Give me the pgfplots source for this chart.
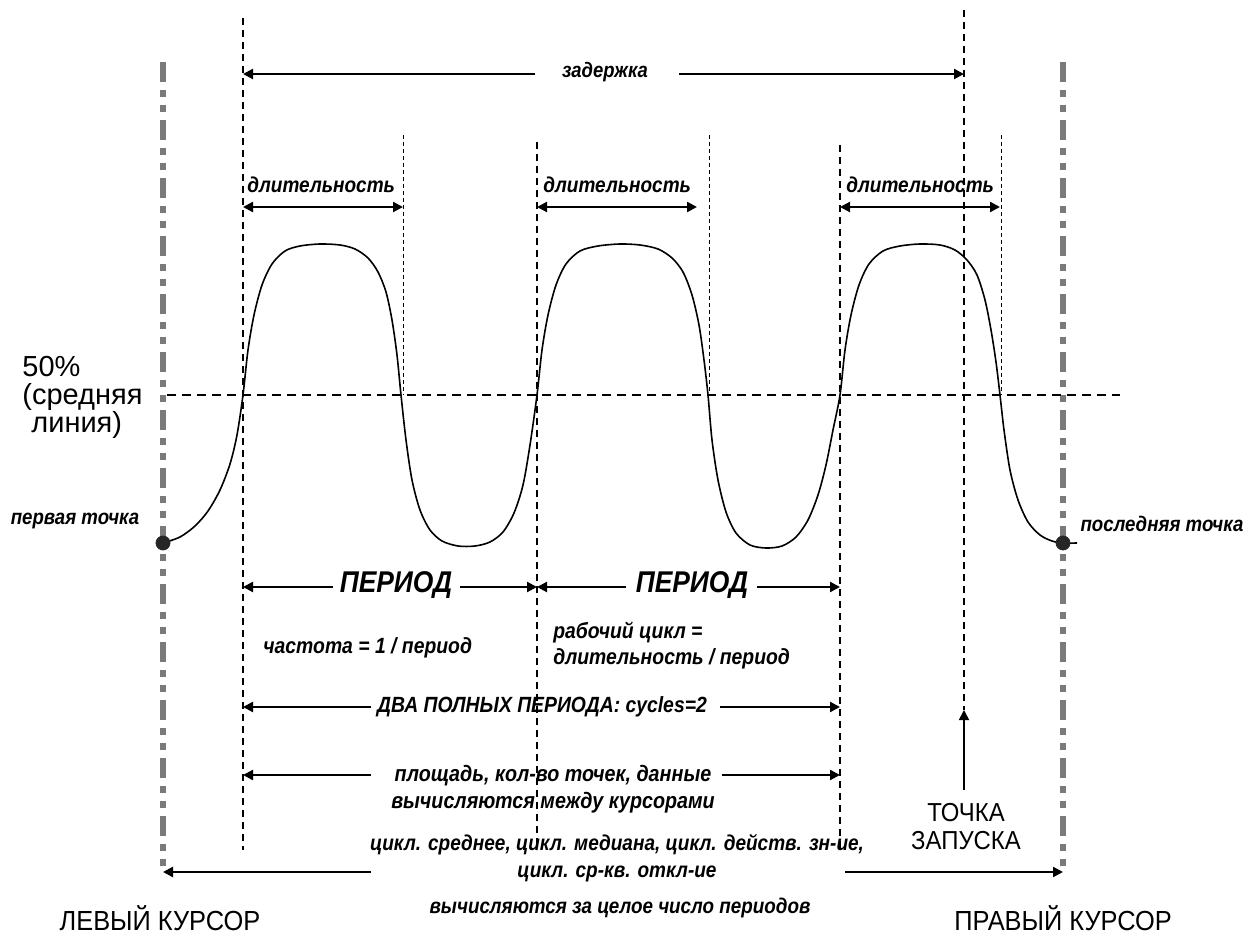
\documentclass[border=0pt]{standalone}
\usepackage{fontspec}
\setmainfont{Liberation Sans}[FakeStretch=0.92]
\newfontfamily\bifont{Liberation Sans}[FakeStretch=0.88]
\newfontfamily\plainfont{Liberation Sans}
\usepackage{pgfplots}
\pgfplotsset{compat=1.18}
\usetikzlibrary{arrows.meta}
\newcommand{\BI}{\bifont\bfseries\itshape}
\tikzset{
  arr/.style={line width=1.1pt,-{Triangle[length=5pt,width=5pt]}},
  darr/.style={line width=1.1pt,{Triangle[length=5pt,width=5pt]}-{Triangle[length=5pt,width=5pt]}},
  vdash/.style={line width=0.9pt,dash pattern=on 3.5pt off 2.5pt},
  vdot/.style={line width=0.5pt,dash pattern=on 2pt off 1.5pt},
  cursor/.style={line width=3pt,black!52,dash pattern=on 10pt off 4pt on 3.5pt off 4pt on 3.5pt off 4pt},
}
\begin{document}
\begin{tikzpicture}
\begin{axis}[
  scale only axis, width=627pt, height=470.5pt,
  xmin=0, xmax=1254, ymin=0, ymax=941, y dir=reverse,
  hide axis, clip=false,
]
% cursors
\draw[cursor] (axis cs:163,62) -- (axis cs:163,870);
\draw[cursor] (axis cs:1063,62) -- (axis cs:1063,870);
% dashed verticals
\draw[vdash] (axis cs:243,18) -- (axis cs:243,850);
\draw[vdash] (axis cs:537,142) -- (axis cs:537,850);
\draw[vdash] (axis cs:840,145) -- (axis cs:840,850);
\draw[vdash] (axis cs:964,10) -- (axis cs:964,710);
\draw[vdot] (axis cs:403,135) -- (axis cs:403,395);
\draw[vdot] (axis cs:709,135) -- (axis cs:709,395);
\draw[vdot] (axis cs:1001,135) -- (axis cs:1001,395);
% midline
\draw[line width=0.8pt,dash pattern=on 4.5pt off 3pt] (axis cs:167,395) -- (axis cs:1120,395);
% waveform
\addplot[black, line width=0.8pt, smooth] coordinates {
(163,543) (180,537) (195,526) (208,511) (220,490) (230,464) (237,435) (243,395)
(248,350) (254,315) (262,285) (272,264) (285,251) (300,246) (320,244) (340,245) (355,249) (368,258) (378,272) (386,292) (392,320) (397,355) (401,395)
(406,440) (412,480) (420,510) (430,530) (442,541) (458,546) (475,546) (490,542) (503,532) (514,513) (523,485) (530,445) (537,395)
(542,350) (548,315) (556,285) (566,264) (580,251) (598,246) (620,244) (640,245) (658,249) (672,258) (683,272) (692,295) (699,325) (704,360) (708,395)
(712,440) (718,480) (726,512) (736,533) (750,545) (766,548) (782,546) (796,537) (808,520) (818,495) (826,465) (833,430) (840,395)
(845,350) (851,315) (859,285) (869,264) (883,251) (900,246) (920,244) (940,245) (955,250) (967,260) (977,275) (985,300) (991,330) (996,362) (1000,395)
(1004,430) (1010,470) (1018,500) (1028,522) (1040,535) (1052,541) (1063,543) (1077,543)
};
\addplot[only marks, mark=*, mark size=3.5pt, black!85] coordinates {(163,543) (1063,543)};
% arrows
\draw[arr] (axis cs:535,74) -- (axis cs:243,74);
\draw[arr] (axis cs:679,74) -- (axis cs:964,74);
\node[font=\BI\fontsize{10.5pt}{12pt}\selectfont] at (axis cs:605,72) {задержка};
\draw[darr] (axis cs:243,207) -- (axis cs:403,207);
\draw[darr] (axis cs:537,207) -- (axis cs:697,207);
\draw[darr] (axis cs:840,207) -- (axis cs:1000,207);
\node[anchor=base west,inner sep=0pt,font=\BI\fontsize{10.8pt}{12pt}\selectfont] at (axis cs:247,193) {длительность};
\node[anchor=base west,inner sep=0pt,font=\BI\fontsize{10.8pt}{12pt}\selectfont] at (axis cs:543,193) {длительность};
\node[anchor=base west,inner sep=0pt,font=\BI\fontsize{10.8pt}{12pt}\selectfont] at (axis cs:846,193) {длительность};
% period
\draw[arr] (axis cs:333,587) -- (axis cs:243,587);
\draw[arr] (axis cs:460,587) -- (axis cs:537,587);
\draw[arr] (axis cs:626,587) -- (axis cs:537,587);
\draw[arr] (axis cs:757,587) -- (axis cs:840,587);
\node[font=\BI\fontsize{15pt}{17pt}\selectfont] at (axis cs:396,585) {ПЕРИОД};
\node[font=\BI\fontsize{15pt}{17pt}\selectfont] at (axis cs:692,585) {ПЕРИОД};
% formulas
\node[anchor=west,inner sep=0pt,font=\BI\fontsize{11pt}{13pt}\selectfont] at (axis cs:263,648) {частота = 1 / период};
\node[anchor=west,inner sep=0pt,align=left,font=\BI\fontsize{11pt}{13pt}\selectfont] at (axis cs:553,646) {рабочий цикл =\\длительность / период};
% two periods
\draw[arr] (axis cs:371,707) -- (axis cs:243,707);
\draw[arr] (axis cs:720,707) -- (axis cs:840,707);
\node[font=\BI\fontsize{11pt}{13pt}\selectfont] at (axis cs:542,707) {ДВА ПОЛНЫХ ПЕРИОДА: cycles=2};
\draw[arr] (axis cs:371,775) -- (axis cs:243,775);
\draw[arr] (axis cs:722,775) -- (axis cs:840,775);
\node[align=center,font=\BI\fontsize{11.2pt}{13.5pt}\selectfont] at (axis cs:553,789) {площадь, кол-во точек, данные\\вычисляются между курсорами};
% cycle stats
\draw[arr] (axis cs:371,872) -- (axis cs:163,872);
\draw[arr] (axis cs:845,872) -- (axis cs:1063,872);
\node[align=center,font=\BI\fontsize{10.8pt}{13.5pt}\selectfont] at (axis cs:617,858) {цикл. среднее, цикл. медиана, цикл. действ. зн-ие,\\цикл. ср-кв. откл-ие};
\node[font=\BI\fontsize{10.7pt}{13pt}\selectfont] at (axis cs:620,908) {вычисляются за целое число периодов};
% trigger
\draw[arr,line width=0.9pt] (axis cs:964,790) -- (axis cs:964,710);
\node[align=center,font=\fontsize{13pt}{14pt}\selectfont] at (axis cs:966,827) {ТОЧКА\\ЗАПУСКА};
% cursor labels
\node[font=\fontsize{13.8pt}{14pt}\selectfont] at (axis cs:160,918) {ЛЕВЫЙ КУРСОР};
\node[font=\fontsize{13.8pt}{14pt}\selectfont] at (axis cs:1063,918) {ПРАВЫЙ КУРСОР};
\node[font=\BI\fontsize{10.6pt}{12pt}\selectfont] at (axis cs:75,521) {первая точка};
\node[font=\BI\fontsize{10.6pt}{12pt}\selectfont] at (axis cs:1162,524) {последняя точка};
% 50% label
\node[anchor=base west,inner sep=0pt,font=\plainfont\fontsize{14.5pt}{15pt}\selectfont] at (axis cs:22,377) {50\%};
\node[anchor=base west,inner sep=0pt,font=\plainfont\fontsize{14.5pt}{15pt}\selectfont] at (axis cs:22,405) {(средняя};
\node[anchor=base west,inner sep=0pt,font=\plainfont\fontsize{14.5pt}{15pt}\selectfont] at (axis cs:31,432) {линия)};
\end{axis}
\pgfresetboundingbox
\path[use as bounding box] (current axis.south west) rectangle (current axis.north east);
\end{tikzpicture}
\end{document}
